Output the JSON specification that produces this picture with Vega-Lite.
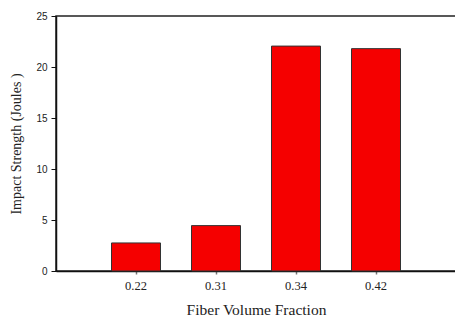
{
  "$schema": "https://vega.github.io/schema/vega-lite/v6.json",
  "width": 400,
  "height": 255,
  "autosize": "none",
  "padding": {"left": 56, "top": 16, "right": 0, "bottom": 46},
  "background": "white",
  "config": {"view": {"stroke": "#222", "strokeWidth": 1.5}},
  "data": {"values": [
    {"fraction": "0.22", "strength": 2.75},
    {"fraction": "0.31", "strength": 4.45},
    {"fraction": "0.34", "strength": 22.05},
    {"fraction": "0.42", "strength": 21.8}
  ]},
  "mark": {"type": "bar", "color": "#f50000", "stroke": "#333333", "strokeWidth": 1},
  "encoding": {
    "x": {
      "field": "fraction", "type": "ordinal",
      "scale": {"paddingInner": 0.3875, "paddingOuter": 0.69375},
      "axis": {
        "title": "Fiber Volume Fraction", "labelAngle": 0,
        "titleFont": "Liberation Serif", "titleFontSize": 15.5, "titleFontWeight": "normal", "titleColor": "#222",
        "labelFont": "Liberation Serif", "labelFontSize": 12.5, "labelColor": "#222", "labelPadding": 5,
        "titlePadding": 11,
        "domainColor": "#111", "domainWidth": 1.5,
        "tickColor": "#777", "tickSize": 3, "tickWidth": 1.5
      }
    },
    "y": {
      "field": "strength", "type": "quantitative",
      "scale": {"domain": [0, 25], "nice": false},
      "axis": {
        "title": "Impact Strength (Joules )", "grid": false, "values": [0, 5, 10, 15, 20, 25],
        "titleFont": "Liberation Serif", "titleFontSize": 14, "titleFontWeight": "normal", "titleColor": "#222",
        "labelFont": "Liberation Sans", "labelFontSize": 10, "labelColor": "#222", "labelPadding": 4,
        "titlePadding": 12,
        "domainColor": "#111", "domainWidth": 1.5,
        "tickColor": "#111", "tickSize": 5, "tickWidth": 1
      }
    }
  }
}
